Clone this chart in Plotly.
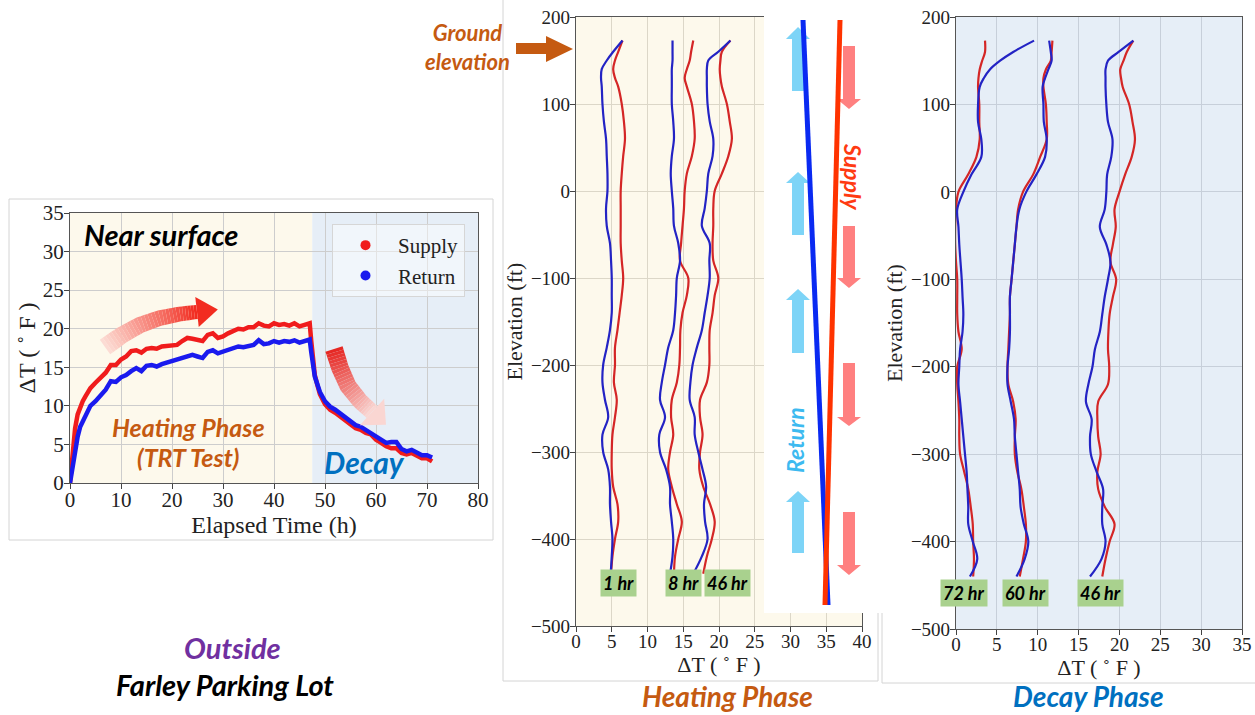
import math
import plotly.graph_objects as go

W, H = 1255, 715

# ---------------- data: near-surface time history ----------------
time_h = [0, 0.5, 1, 1.5, 2, 2.5, 3, 4, 5, 6, 7, 8, 9, 10, 11, 12, 13, 14, 15, 16, 17, 18, 19, 20,
          21, 22, 23, 24, 25, 26, 27, 28, 29, 30, 31, 32, 33, 34, 35, 36, 37, 38, 39, 40, 41, 42,
          43, 44, 45, 46, 47, 47.3, 47.6, 48, 48.5, 49, 50, 51, 52, 53, 54, 55, 56, 57, 58, 59,
          60, 61, 62, 63, 64, 65, 66, 67, 68, 69, 70, 71]
supply_dT = [0, 3.7, 7.1, 8.9, 9.9, 10.6, 11.2,
             12.3, 13.0, 13.7, 14.3, 15.3, 15.3, 16.0, 16.4, 17.1, 17.2, 16.9, 17.4, 17.5, 17.4,
             17.7, 17.8, 17.9, 17.9, 18.4, 18.8, 18.7, 18.5, 18.4, 19.2, 19.4, 18.8, 19.0, 19.4,
             19.7, 20.0, 19.9, 20.2, 20.2, 20.7, 20.4, 20.3, 20.7, 20.5, 20.6, 20.4, 20.7, 20.3,
             20.5, 20.7,
             18.4, 15.8, 14.0, 12.7, 11.5,
             10.2, 9.5, 9.1, 8.6, 8.1, 7.6, 7.1, 6.9, 6.5, 6.3, 5.6, 5.2, 4.75, 4.5, 4.5, 3.9,
             3.7, 3.9, 3.5, 3.2, 3.2, 2.8]
return_dT = [0, 2.0, 4.5, 6.0, 7.3, 8.0, 8.7,
             10.0, 10.6, 11.4, 12.1, 13.2, 13.1, 13.7, 14.0, 14.5, 14.9, 14.5, 15.2, 15.3, 15.1,
             15.4, 15.6, 15.8, 16.0, 16.2, 16.5, 16.6, 16.4, 16.2, 17.0, 17.2, 16.8, 17.0, 17.3,
             17.4, 17.7, 17.6, 17.8, 17.9, 18.5, 18.0, 18.1, 18.4, 18.2, 18.4, 18.3, 18.5, 18.2,
             18.4, 18.6,
             17.0, 15.0, 13.8, 12.8, 11.8,
             10.6, 9.9, 9.5, 9.0, 8.5, 7.9, 7.5, 7.3, 6.9, 6.5, 6.0, 5.6, 5.2, 5.3, 5.3, 4.4,
             4.1, 4.3, 3.9, 3.6, 3.6, 3.3]

# ---------------- data: depth profiles ----------------
elev_ft = [173, 160, 150, 140, 130, 120, 100, 80, 60, 40, 20, 0, -20, -40, -60, -80, -100, -120,
           -140, -160, -180, -200, -220, -240, -260, -280, -300, -320, -340, -360, -380, -400,
           -420, -440]

heat_1h_supply = [6.5, 5.9, 5.45, 5.2, 5.45, 5.9, 6.4, 6.7, 6.85, 6.6, 6.4, 6.25, 6.25, 6.25, 6.25,
                  6.4, 6.6, 6.4, 6.1, 5.8, 5.45, 5.45, 5.3, 5.7, 5.45, 5.1, 5.0, 5.0, 5.2, 5.8, 5.9,
                  5.45, 5.1, 4.9]
heat_1h_return = [6.5, 5.2, 4.3, 3.6, 3.5, 3.6, 3.7, 3.9, 4.2, 4.3, 4.4, 4.4, 4.2, 4.3, 4.75, 4.9,
                  5.0, 5.0, 5.0, 4.75, 4.3, 3.8, 3.7, 4.05, 4.5, 3.7, 3.8, 4.5, 4.75, 4.75, 4.9, 5.1,
                  5.0, 4.85]
heat_8h_supply = [16.4, 16.1, 15.9, 15.5, 15.2, 15.5, 16.2, 16.5, 16.6, 16.2, 15.5, 15.2, 15.1, 14.9,
                  14.7, 14.55, 15.7, 15.5, 14.9, 14.6, 14.55, 14.45, 14.1, 13.4, 13.3, 13.6, 13.15,
                  12.9, 13.4, 14.1, 14.8, 14.3, 13.85, 13.7]
heat_8h_return = [13.5, 13.5, 13.5, 13.4, 13.4, 13.4, 13.4, 13.6, 13.7, 13.4, 13.25, 13.4, 13.6, 13.7,
                  14.3, 14.55, 14.1, 14.0, 13.85, 13.6, 12.9, 12.45, 12.0, 11.75, 12.45, 11.65, 11.75,
                  12.6, 13.15, 13.15, 13.4, 13.6, 13.5, 13.15]
heat_46h_supply = [21.6, 20.4, 20.2, 20.1, 20.2, 20.4, 21.1, 21.5, 21.8, 21.3, 20.4, 19.4, 19.2, 19.2,
                   19.1, 19.2, 19.9, 19.4, 19.1, 18.7, 18.65, 18.65, 18.3, 17.35, 17.35, 17.7, 17.35,
                   17.25, 17.8, 18.75, 19.4, 19.0, 18.3, 17.8]
heat_46h_return = [21.6, 19.9, 18.5, 18.3, 18.3, 18.3, 18.4, 18.7, 19.2, 19.1, 18.5, 18.3, 18.0, 17.6,
                   18.7, 18.65, 18.7, 18.4, 18.0, 17.6, 16.9, 16.3, 16.0, 15.9, 16.6, 16.6, 17.1,
                   17.7, 18.2, 17.9, 18.05, 18.4, 17.6, 16.4]

decay_72h_supply = [3.55, 3.55, 3.2, 2.9, 2.75, 2.7, 2.85, 2.85, 2.9, 2.5, 1.5, 0.3, 0.0, -0.1, -0.1,
                    0.0, 0.15, 0.15, 0.15, 0.3, 0.7, 0.15, 0.15, 0.3, 0.4, 0.4, 0.5, 1.0, 1.5, 1.8,
                    2.05, 2.1, 2.2, 2.1]
decay_72h_return = [9.55, 7.0, 5.4, 4.15, 3.4, 2.9, 2.7, 2.7, 3.1, 3.1, 1.9, 0.9, 0.15, 0.3, 0.4, 0.55,
                    0.7, 0.8, 0.9, 0.8, 0.5, 0.4, 0.3, 0.5, 0.7, 0.9, 1.1, 1.3, 1.4, 1.5, 1.5, 2.05,
                    2.6, 1.7]
decay_60h_supply = [11.8, 11.7, 11.6, 11.0, 10.7, 10.7, 11.0, 11.1, 11.1, 10.3, 9.45, 8.2, 7.6, 7.4,
                    7.2, 7.0, 6.8, 6.6, 6.6, 6.5, 6.4, 6.3, 6.4, 7.0, 7.3, 7.2, 7.2, 7.5, 8.0, 8.3,
                    8.55, 8.55, 8.2, 7.8]
decay_60h_return = [11.4, 11.6, 11.7, 11.3, 10.9, 10.6, 10.7, 10.75, 11.1, 10.9, 9.85, 8.6, 7.75, 7.4,
                    7.2, 7.0, 6.8, 6.6, 6.6, 6.6, 6.5, 6.3, 6.3, 6.7, 7.1, 7.2, 7.4, 7.6, 7.8, 7.9,
                    8.3, 8.85, 8.4, 7.4]
decay_46h_supply = [21.7, 20.9, 20.5, 20.1, 20.2, 20.4, 21.2, 21.6, 21.9, 21.5, 20.7, 20.0, 19.4, 19.55,
                    19.2, 18.9, 19.6, 19.2, 18.8, 18.65, 18.6, 18.75, 18.6, 17.4, 17.3, 17.4, 17.7,
                    17.3, 17.4, 18.2, 19.4, 18.8, 18.3, 17.9]
decay_46h_return = [21.7, 19.9, 18.6, 18.3, 18.3, 18.3, 18.4, 18.6, 19.15, 19.0, 18.5, 18.4, 18.2, 17.6,
                    18.4, 18.9, 18.6, 18.2, 17.9, 17.6, 17.0, 16.7, 16.2, 15.9, 16.6, 16.4, 16.5,
                    17.2, 18.0, 17.9, 17.9, 18.3, 17.8, 16.4]

heat_labels = ["1 hr", "8 hr", "46 hr"]
decay_labels = ["72 hr", "60 hr", "46 hr"]

# ---------------- styles ----------------
RED_TS, BLUE_TS = "#f01c1c", "#1a1aee"
RED_PR, BLUE_PR = "#d42626", "#2323c4"
CREAM, LBLUE = "#fdf9ec", "#e6eef7"
ORANGE, DBLUE, PURPLE = "#c55a11", "#0070c0", "#7030a0"
SERIF = "Liberation Serif, Times New Roman, serif"
LATO = "Lato, Noto Sans, sans-serif"


def px(x):
    return x / W


def py(y):
    return 1 - y / H


fig = go.Figure()

# time history
fig.add_trace(go.Scatter(x=time_h, y=supply_dT, mode="lines", line=dict(color=RED_TS, width=4.5),
                         showlegend=False, xaxis="x", yaxis="y"))
fig.add_trace(go.Scatter(x=time_h, y=return_dT, mode="lines", line=dict(color=BLUE_TS, width=4.5),
                         showlegend=False, xaxis="x", yaxis="y"))
fig.add_trace(go.Scatter(x=[None], y=[None], mode="markers", name="Supply",
                         marker=dict(color=RED_TS, size=10), xaxis="x", yaxis="y"))
fig.add_trace(go.Scatter(x=[None], y=[None], mode="markers", name="Return",
                         marker=dict(color=BLUE_TS, size=10), xaxis="x", yaxis="y"))

# profiles
for s, r in [(heat_1h_supply, heat_1h_return), (heat_8h_supply, heat_8h_return),
             (heat_46h_supply, heat_46h_return)]:
    fig.add_trace(go.Scatter(x=s, y=elev_ft, mode="lines", line=dict(color=RED_PR, width=2.2, shape="spline"),
                             showlegend=False, xaxis="x2", yaxis="y2"))
    fig.add_trace(go.Scatter(x=r, y=elev_ft, mode="lines", line=dict(color=BLUE_PR, width=2.2, shape="spline"),
                             showlegend=False, xaxis="x2", yaxis="y2"))
for s, r in [(decay_72h_supply, decay_72h_return), (decay_60h_supply, decay_60h_return),
             (decay_46h_supply, decay_46h_return)]:
    fig.add_trace(go.Scatter(x=s, y=elev_ft, mode="lines", line=dict(color=RED_PR, width=2.2, shape="spline"),
                             showlegend=False, xaxis="x3", yaxis="y3"))
    fig.add_trace(go.Scatter(x=r, y=elev_ft, mode="lines", line=dict(color=BLUE_PR, width=2.2, shape="spline"),
                             showlegend=False, xaxis="x3", yaxis="y3"))

# ---------------- axes ----------------
tickf = dict(family=SERIF, size=21, color="#222")
titlef = dict(family=SERIF, size=24, color="#222")
tickf2 = dict(family=SERIF, size=19, color="#222")
titlef2 = dict(family=SERIF, size=22, color="#222")
base = dict(showline=True, linecolor="#555", linewidth=1.2, mirror=True, ticks="outside", ticklen=5,
            tickcolor="#444", zeroline=False, showgrid=True, automargin=False)
bx = dict(base, ticklabelstandoff=-7)
by = dict(base, ticklabelstandoff=-4)

fig.update_layout(
    xaxis=dict(bx, domain=[px(70), px(478)], range=[0, 80], dtick=10, anchor="y", gridcolor="#cdcdcd",
               tickfont=tickf, title=dict(text="Elapsed Time (h)", font=titlef, standoff=2)),
    yaxis=dict(by, domain=[py(483), py(213)], range=[0, 35], dtick=5, anchor="x", gridcolor="#cdcdcd",
               tickfont=tickf, title=dict(text="ΔT ( ˚ F )", font=titlef, standoff=0)),
    xaxis2=dict(bx, domain=[px(576), px(862)], range=[0, 40], dtick=5, anchor="y2", gridcolor="#dcd7c8",
                tickfont=tickf2, title=dict(text="ΔT ( ˚ F )", font=titlef2, standoff=2)),
    yaxis2=dict(by, domain=[py(626), py(17)], range=[-500, 200], dtick=100, anchor="x2", gridcolor="#dcd7c8",
                tickfont=tickf2, title=dict(text="Elevation (ft)", font=titlef2, standoff=2)),
    xaxis3=dict(bx, domain=[px(956), px(1242)], range=[0, 35], dtick=5, anchor="y3", gridcolor="#c7cfda",
                tickfont=tickf2, title=dict(text="ΔT ( ˚ F )", font=titlef2, standoff=2)),
    yaxis3=dict(by, domain=[py(629), py(17)], range=[-500, 200], dtick=100, anchor="x3", gridcolor="#c7cfda",
                tickfont=tickf2, title=dict(text="Elevation (ft)", font=titlef2, standoff=2)),
)

# ---------------- shapes ----------------
shapes = []
# backgrounds
shapes.append(dict(type="rect", xref="x", yref="y domain", x0=0, x1=47.5, y0=0, y1=1,
                   fillcolor=CREAM, line_width=0, layer="below"))
shapes.append(dict(type="rect", xref="x", yref="y domain", x0=47.5, x1=80, y0=0, y1=1,
                   fillcolor=LBLUE, line_width=0, layer="below"))
shapes.append(dict(type="rect", xref="x2 domain", yref="y2 domain", x0=0, x1=1, y0=0, y1=1,
                   fillcolor=CREAM, line_width=0, layer="below"))
shapes.append(dict(type="rect", xref="x3 domain", yref="y3 domain", x0=0, x1=1, y0=0, y1=1,
                   fillcolor=LBLUE, line_width=0, layer="below"))


def pline(x0, y0, x1, y1, color="#d4d4d4", width=1):
    return dict(type="line", xref="paper", yref="paper", x0=px(x0), y0=py(y0), x1=px(x1), y1=py(y1),
                line=dict(color=color, width=width), layer="above")


def ppoly(points, color, opacity=1.0):
    path = "M " + " L ".join(f"{px(x):.5f},{py(y):.5f}" for x, y in points) + " Z"
    return dict(type="path", xref="paper", yref="paper", path=path, fillcolor=color,
                line=dict(width=0), opacity=opacity, layer="above")


# panel frames
shapes.append(dict(type="rect", xref="paper", yref="paper", x0=px(9), x1=px(493), y0=py(540), y1=py(199),
                   line=dict(color="#d4d4d4", width=1), layer="below"))
shapes.append(pline(503, 0, 503, 681))
shapes.append(pline(503, 681, 878, 681))
shapes.append(pline(882, 613, 882, 683))
shapes.append(pline(882, 683, 1255, 683))

# white schematic box in the middle panel
shapes.append(dict(type="rect", xref="paper", yref="paper", x0=px(764), x1=px(878), y0=py(613), y1=py(0),
                   fillcolor="white", line_width=0, layer="above"))
shapes.append(pline(878, 613, 878, 681))


def up_arrow(xl, xr, tip, base_y, bottom, hl, hr, color):
    xc = (xl + xr) / 2
    return ppoly([(xl, bottom), (xl, base_y), (hl, base_y), (xc, tip), (hr, base_y), (xr, base_y), (xr, bottom)], color)


def down_arrow(xl, xr, top, base_y, tip, hl, hr, color):
    xc = (xl + xr) / 2
    return ppoly([(xl, top), (xl, base_y), (hl, base_y), (xc, tip), (hr, base_y), (xr, base_y), (xr, top)], color)


ARROW_UP = "#7dd4f7"
ARROW_DN = "#ff8080"
for tip, base_y, bottom in [(27, 39, 91), (172, 183, 235), (289, 300, 353), (491, 502, 553)]:
    shapes.append(up_arrow(792, 804, tip, base_y, bottom, 786, 810, ARROW_UP))
for top, base_y, tip in [(46, 99, 109), (226, 278, 288), (363, 417, 426), (512, 565, 575)]:
    shapes.append(down_arrow(843, 855, top, base_y, tip, 837, 861, ARROW_DN))

# pipe legs
shapes.append(pline(803, 20, 828, 605, color="#0a2af2", width=5))
shapes.append(pline(840, 20, 825, 605, color="#ff3300", width=5))

# ground elevation arrow
shapes.append(ppoly([(516, 43), (546, 43), (546, 36), (573, 49), (546, 62), (546, 54), (516, 54)], ORANGE))


def curved_arrow(pts, half_w0, half_w1, head_half, head_len, c0, c1, sub=6):
    dense = []
    for i in range(len(pts) - 1):
        (xa, ya), (xb, yb) = pts[i], pts[i + 1]
        for k in range(sub):
            t = k / sub
            dense.append((xa + (xb - xa) * t, ya + (yb - ya) * t))
    dense.append(pts[-1])
    n = len(dense)
    normals = []
    for i in range(n):
        a = dense[max(i - 1, 0)]
        b = dense[min(i + 1, n - 1)]
        dx, dy = b[0] - a[0], b[1] - a[1]
        L = math.hypot(dx, dy)
        normals.append((-dy / L, dx / L))
    hw = [half_w0 + (half_w1 - half_w0) * i / (n - 1) for i in range(n)]
    out = []
    for i in range(n - 1):
        t = i / (n - 2)
        col = tuple(int(round(c0[j] + (c1[j] - c0[j]) * t)) for j in range(3))
        (x0, y0), (x1, y1) = dense[i], dense[i + 1]
        (nx0, ny0), (nx1, ny1) = normals[i], normals[i + 1]
        w0, w1 = hw[i], hw[i + 1]
        quad = [(x0 + nx0 * w0, y0 + ny0 * w0), (x1 + nx1 * w1, y1 + ny1 * w1),
                (x1 - nx1 * w1, y1 - ny1 * w1), (x0 - nx0 * w0, y0 - ny0 * w0)]
        out.append(ppoly(quad, "rgb(%d,%d,%d)" % col))
    (xe, ye), (xp, yp) = dense[-1], dense[-2]
    dx, dy = xe - xp, ye - yp
    L = math.hypot(dx, dy)
    ux, uy = dx / L, dy / L
    nx, ny = -uy, ux
    head = [(xe + nx * head_half, ye + ny * head_half), (xe + ux * head_len, ye + uy * head_len),
            (xe - nx * head_half, ye - ny * head_half)]
    out.append(ppoly(head, "rgb(%d,%d,%d)" % c1))
    return out


shapes += curved_arrow([(105, 347), (122, 335), (140, 325), (160, 318), (180, 314), (197, 312)],
                       9, 7, 15, 21, (252, 220, 212), (242, 44, 32))
shapes += curved_arrow([(334, 349), (340, 368), (348, 386), (360, 401), (372, 412)],
                       9, 8, 18, 19, (230, 40, 36), (250, 214, 210))

fig.update_layout(shapes=shapes)

# ---------------- annotations ----------------
def lato(size, color="black"):
    return dict(family=LATO, size=size, color=color, weight="bold", style="italic")


ann = []
ann.append(dict(text="Near surface", x=px(82), y=py(235), xanchor="left", font=lato(29)))
ann.append(dict(text="Heating Phase", x=px(188), y=py(427), font=lato(25, ORANGE)))
ann.append(dict(text="(TRT Test)", x=px(188), y=py(457), font=lato(25, ORANGE)))
ann.append(dict(text="Decay", x=px(364), y=py(462), font=lato(30, DBLUE)))
ann.append(dict(text="Ground<br>elevation", x=px(467), y=py(47), font=lato(22, ORANGE)))
ann.append(dict(text="Supply", x=px(853), y=py(176), textangle=90, font=lato(23, "#ff3a12")))
ann.append(dict(text="Return", x=px(795), y=py(440), textangle=-90, font=lato(23, "#3dbaf0")))
for lab, xc in zip(heat_labels, [618, 683, 727]):
    ann.append(dict(text=lab, x=px(xc), y=py(583), font=lato(18), bgcolor="#a9d18e", borderpad=2))
for lab, xc in zip(decay_labels, [964, 1025, 1100]):
    ann.append(dict(text=lab, x=px(xc), y=py(593), font=lato(18), bgcolor="#a9d18e", borderpad=2))
ann.append(dict(text="Heating Phase", x=px(727), y=py(696), font=lato(28, ORANGE), borderpad=0))
ann.append(dict(text="Decay Phase", x=px(1088), y=py(696), font=lato(28, DBLUE), borderpad=0))
ann.append(dict(text="Outside", x=px(232), y=py(647), font=lato(29, PURPLE)))
ann.append(dict(text="Farley Parking Lot", x=px(225), y=py(684), font=lato(29)))
for a in ann:
    a.setdefault("xanchor", "center")
    a.update(xref="paper", yref="paper", showarrow=False, yanchor="middle")

fig.update_layout(
    annotations=ann,
    width=W, height=H,
    margin=dict(l=0, r=0, t=0, b=0),
    paper_bgcolor="white", plot_bgcolor="white",
    showlegend=True,
    legend=dict(x=px(332), y=py(224), xanchor="left", yanchor="top", bgcolor="rgba(255,255,255,0.45)",
                bordercolor="#d6d6d6", borderwidth=1, font=dict(family=SERIF, size=21, color="#222"),
                itemwidth=55, tracegroupgap=0),
)

fig.write_html("out.html")
